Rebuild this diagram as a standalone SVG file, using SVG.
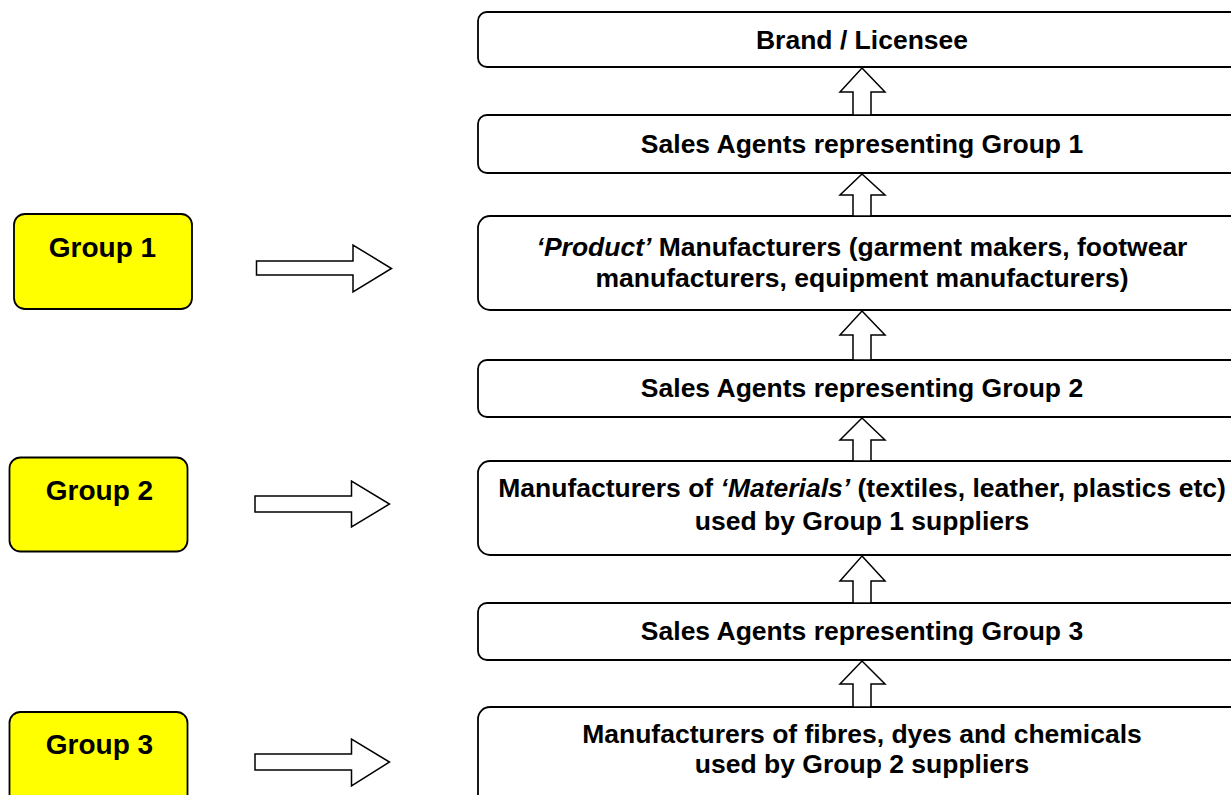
<svg xmlns="http://www.w3.org/2000/svg" width="1231" height="795" viewBox="0 0 1231 795">
<style>
.box{fill:#fff;stroke:#000;stroke-width:1.8}
.grp{fill:#ffff00;stroke:#000;stroke-width:1.8}
.arr{fill:#fff;stroke:#000;stroke-width:1.5;stroke-linejoin:miter}
.t{font-family:"Liberation Sans",Arial,sans-serif;font-weight:bold;font-size:26.5px;fill:#000;text-anchor:middle}
.g{font-family:"Liberation Sans",Arial,sans-serif;font-weight:bold;font-size:28px;fill:#000;text-anchor:middle}
.i{font-style:italic}
</style>
<rect width="1231" height="795" fill="#fff"/>
<g id="box-brand"><rect class="box" x="478" y="12" width="780" height="55" rx="9"/><text class="t" x="862" y="48.5">Brand / Licensee</text></g>
<g id="box-agents1"><rect class="box" x="478" y="115" width="780" height="58" rx="9"/><text class="t" x="862" y="152.5">Sales Agents representing Group 1</text></g>
<g id="box-product"><rect class="box" x="478" y="216" width="780" height="94" rx="12"/><text class="t" x="862" y="255.5"><tspan class="i">‘Product’</tspan> Manufacturers (garment makers, footwear</text><text class="t" x="862" y="287">manufacturers, equipment manufacturers)</text></g>
<g id="box-agents2"><rect class="box" x="478" y="360" width="780" height="57" rx="9"/><text class="t" x="862" y="397">Sales Agents representing Group 2</text></g>
<g id="box-materials"><rect class="box" x="478" y="461" width="780" height="94" rx="12"/><text class="t" x="862" y="497">Manufacturers of <tspan class="i">‘Materials’</tspan> (textiles, leather, plastics etc)</text><text class="t" x="862" y="530">used by Group 1 suppliers</text></g>
<g id="box-agents3"><rect class="box" x="478" y="603" width="780" height="57" rx="9"/><text class="t" x="862" y="640">Sales Agents representing Group 3</text></g>
<g id="box-fibres"><rect class="box" x="478" y="707" width="780" height="110" rx="12"/><text class="t" x="862" y="743">Manufacturers of fibres, dyes and chemicals</text><text class="t" x="862" y="773">used by Group 2 suppliers</text></g>
<g id="group1"><rect class="grp" x="14" y="214" width="178" height="95" rx="11"/><text class="g" x="102.5" y="256.5">Group 1</text></g>
<g id="group2"><rect class="grp" x="9.5" y="457.5" width="178" height="94" rx="11"/><text class="g" x="99.5" y="500">Group 2</text></g>
<g id="group3"><rect class="grp" x="9.5" y="712" width="178" height="100" rx="11"/><text class="g" x="99.5" y="753.5">Group 3</text></g>
<g id="connectors">
<path class="arr" d="M862,68 L885,92 L871,92 L871,115 L853,115 L853,92 L840,92 Z"/>
<path class="arr" d="M862,174 L885,195 L871,195 L871,216 L853,216 L853,195 L840,195 Z"/>
<path class="arr" d="M862,311 L885,335 L871,335 L871,360 L853,360 L853,335 L840,335 Z"/>
<path class="arr" d="M862,418 L885,440 L871,440 L871,461 L853,461 L853,440 L840,440 Z"/>
<path class="arr" d="M862,556 L885,581 L871,581 L871,603 L853,603 L853,581 L840,581 Z"/>
<path class="arr" d="M862,661 L885,684 L871,684 L871,707 L853,707 L853,684 L840,684 Z"/>
<path class="arr" d="M256.5,261 L353,261 L353,245 L391.5,268.5 L353,292 L353,275 L256.5,275 Z"/>
<path class="arr" d="M255,496 L351.5,496 L351.5,481 L389.5,504 L351.5,527 L351.5,512 L255,512 Z"/>
<path class="arr" d="M255,754 L351.5,754 L351.5,739 L389.5,762 L351.5,786 L351.5,770 L255,770 Z"/>
</g>
</svg>
